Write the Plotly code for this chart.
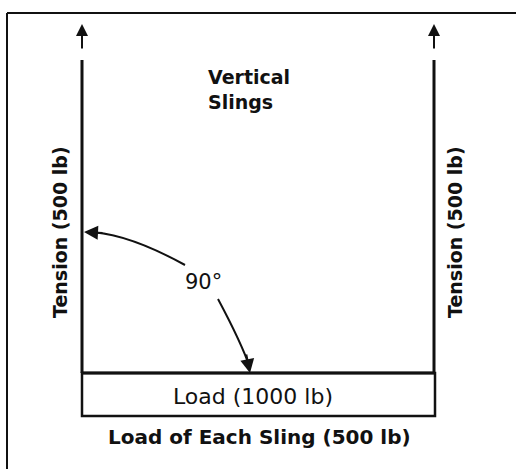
import plotly.graph_objects as go

# diagram values
sling_tension_lb = [500, 500]
load_lb = [1000]
angle_deg = [90]
title_lines = ["Vertical", "Slings"]

W, H = 516, 469
FONT = "DejaVu Sans, Verdana, sans-serif"
INK = "#111111"

# geometry (pixel space, y grows downward)
left_x, right_x = 82, 434
box_top, box_bot = 373, 416
line_top = 60

fig = go.Figure()

shapes = []
# frame of the scanned figure
shapes.append(dict(type="line", x0=7, y0=13, x1=7, y1=H, line=dict(color=INK, width=2)))
shapes.append(dict(type="line", x0=7, y0=13, x1=W, y1=13, line=dict(color=INK, width=2)))
# slings
for x in [left_x, right_x]:
    shapes.append(dict(type="line", x0=x, y0=line_top, x1=x, y1=box_top, line=dict(color=INK, width=3)))
# load box
shapes.append(dict(type="rect", x0=left_x, y0=box_top, x1=right_x + 1, y1=box_bot,
                   line=dict(color=INK, width=2.5), fillcolor="white"))
shapes.append(dict(type="line", x0=left_x, y0=box_top, x1=right_x + 1, y1=box_top,
                   line=dict(color=INK, width=3)))
# angle arc (split around the label)
shapes.append(dict(type="path", path="M 86 232 Q 125 232 185 265", line=dict(color=INK, width=2)))
shapes.append(dict(type="path", path="M 218 299 Q 242 344 250 368", line=dict(color=INK, width=2)))

annotations = []
# top arrows
for x in [left_x, right_x]:
    annotations.append(dict(x=x, y=24, ax=x, ay=50, xref="x", yref="y", axref="x", ayref="y",
                            showarrow=True, arrowhead=2, arrowsize=1.2, arrowwidth=2,
                            arrowcolor=INK, text=""))
# arc arrow heads
annotations.append(dict(x=84, y=232, ax=104, ay=233, xref="x", yref="y", axref="x", ayref="y",
                        showarrow=True, arrowhead=2, arrowsize=1.4, arrowwidth=2,
                        arrowcolor=INK, text=""))
annotations.append(dict(x=250, y=373, ax=246, ay=353, xref="x", yref="y", axref="x", ayref="y",
                        showarrow=True, arrowhead=2, arrowsize=1.4, arrowwidth=2,
                        arrowcolor=INK, text=""))

# labels
annotations.append(dict(x=206, y=89, xref="x", yref="y", showarrow=False, xanchor="left",
                        align="left", text="<b>" + "<br>".join(title_lines) + "</b>",
                        font=dict(family=FONT, size=19, color=INK)))
annotations.append(dict(x=60, y=232, xref="x", yref="y", showarrow=False, textangle=-90,
                        text=f"<b>Tension ({sling_tension_lb[0]} lb)</b>",
                        font=dict(family=FONT, size=19, color=INK)))
annotations.append(dict(x=455, y=232, xref="x", yref="y", showarrow=False, textangle=-90,
                        text=f"<b>Tension ({sling_tension_lb[1]} lb)</b>",
                        font=dict(family=FONT, size=19, color=INK)))
annotations.append(dict(x=203, y=282, xref="x", yref="y", showarrow=False,
                        text=f"{angle_deg[0]}°", font=dict(family=FONT, size=21, color=INK)))
annotations.append(dict(x=253, y=396, xref="x", yref="y", showarrow=False,
                        text=f"Load ({load_lb[0]} lb)", font=dict(family=FONT, size=22, color=INK)))
annotations.append(dict(x=259, y=437, xref="x", yref="y", showarrow=False,
                        text=f"<b>Load of Each Sling ({sling_tension_lb[0]} lb)</b>",
                        font=dict(family=FONT, size=20, color=INK)))

fig.update_layout(
    width=W, height=H,
    margin=dict(l=0, r=0, t=0, b=0),
    plot_bgcolor="white", paper_bgcolor="white",
    xaxis=dict(range=[0, W], visible=False, fixedrange=True),
    yaxis=dict(range=[H, 0], visible=False, fixedrange=True),
    shapes=shapes,
    annotations=annotations,
    showlegend=False,
)

fig.write_html("out.html", config={"displayModeBar": False},
               post_script="document.body.style.margin='0';")
